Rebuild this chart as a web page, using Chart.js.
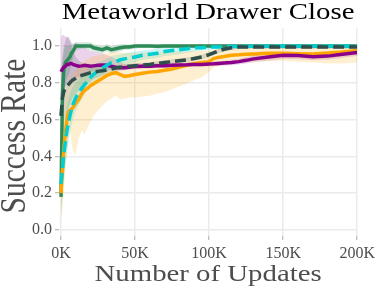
<!DOCTYPE html>
<html>
<head>
<meta charset="utf-8">
<script src="https://cdn.jsdelivr.net/npm/chart.js@4"></script>
<style>
  body { margin: 0; background: #fff; }
  canvas { display: block; }
</style>
</head>
<body>
<canvas id="chart" width="379" height="294"></canvas>
<script>
// Texts
const chartTitle = "Metaworld Drawer Close";
const xTitle = "Number of Updates";
const yTitle = "Success Rate";

// Tick values and labels
const xTicks = [0, 50000, 100000, 150000, 200000];
const xTickLabels = ["0K", "50K", "100K", "150K", "200K"];
const yTicks = [0, 0.2, 0.4, 0.6, 0.8, 1.0];
const yTickLabels = ["0.0", "0.2", "0.4", "0.6", "0.8", "1.0"];

// Updates (in thousands)
const updatesK = [0, 1, 2, 3, 4, 5, 6, 7, 8, 10, 12, 14, 16, 18, 20, 22, 25, 28, 31, 34, 37, 40, 43, 46, 50,
  55, 60, 65, 70, 75, 80, 85, 90, 95, 100, 103, 106, 110, 115, 120, 125, 130, 140, 150, 160, 170, 180, 190, 200];

// green solid
const greenMean = [0.18, 0.74, 0.88, 0.91, 0.92, 0.93, 0.94, 0.96, 0.97, 1.0, 1.0, 1.0, 1.0, 1.0, 1.0, 0.99, 0.985, 0.98, 0.99, 0.98, 0.985, 0.99, 0.995, 0.995, 1.0,
  1.0, 1.0, 0.998, 1.0, 1.0, 1.0, 1.0, 1.0, 1.0, 1.0, 1.0, 1.0, 1.0, 1.0, 1.0, 1.0, 1.0, 1.0, 1.0, 1.0, 1.0, 1.0, 1.0, 1.0];
const greenLow = [0.05, 0.55, 0.75, 0.8, 0.82, 0.84, 0.86, 0.9, 0.93, 0.98, 0.98, 0.985, 0.985, 0.98, 0.98, 0.97, 0.965, 0.96, 0.97, 0.96, 0.965, 0.97, 0.98, 0.98, 0.985,
  0.99, 0.99, 0.985, 0.99, 0.99, 0.99, 0.99, 0.99, 0.99, 0.99, 0.99, 0.99, 0.99, 0.99, 0.99, 0.99, 0.99, 0.99, 0.99, 0.99, 0.99, 0.99, 0.99, 0.99];
const greenHigh = [0.35, 0.9, 0.98, 1.0, 1.0, 1.0, 1.0, 1.01, 1.01, 1.02, 1.02, 1.02, 1.02, 1.02, 1.02, 1.01, 1.005, 1.0, 1.01, 1.0, 1.005, 1.01, 1.01, 1.01, 1.01,
  1.01, 1.01, 1.01, 1.01, 1.01, 1.01, 1.01, 1.01, 1.01, 1.01, 1.01, 1.01, 1.01, 1.01, 1.01, 1.01, 1.01, 1.01, 1.01, 1.01, 1.01, 1.01, 1.01, 1.01];

// orange solid
const orangeMean = [0.2, 0.33, 0.45, 0.53, 0.6, 0.64, 0.65, 0.655, 0.665, 0.69, 0.71, 0.74, 0.76, 0.77, 0.785, 0.795, 0.81, 0.825, 0.84, 0.85, 0.855, 0.845, 0.835, 0.838, 0.845,
  0.852, 0.858, 0.862, 0.868, 0.875, 0.885, 0.895, 0.905, 0.91, 0.915, 0.932, 0.938, 0.943, 0.95, 0.952, 0.955, 0.957, 0.96, 0.96, 0.958, 0.957, 0.962, 0.968, 0.975];
const orangeLow = [0.05, 0.12, 0.22, 0.32, 0.42, 0.5, 0.55, 0.48, 0.43, 0.41, 0.5, 0.54, 0.52, 0.56, 0.59, 0.62, 0.65, 0.675, 0.7, 0.715, 0.73, 0.71, 0.715, 0.72, 0.72,
  0.725, 0.73, 0.74, 0.75, 0.765, 0.78, 0.795, 0.815, 0.83, 0.86, 0.885, 0.89, 0.895, 0.905, 0.91, 0.912, 0.915, 0.918, 0.92, 0.915, 0.91, 0.905, 0.905, 0.91];
const orangeHigh = [0.3, 0.55, 0.68, 0.75, 0.8, 0.82, 0.83, 0.84, 0.85, 0.87, 0.89, 0.91, 0.92, 0.93, 0.94, 0.945, 0.95, 0.955, 0.96, 0.965, 0.965, 0.965, 0.96, 0.96, 0.962,
  0.965, 0.965, 0.967, 0.968, 0.97, 0.97, 0.972, 0.973, 0.974, 0.975, 0.98, 0.982, 0.985, 0.988, 0.99, 0.992, 0.995, 0.995, 0.995, 0.995, 0.995, 0.995, 0.995, 0.995];

// cyan dashed
const cyanMean = [0.25, 0.33, 0.42, 0.48, 0.54, 0.58, 0.62, 0.65, 0.68, 0.72, 0.745, 0.77, 0.79, 0.81, 0.83, 0.845, 0.865, 0.88, 0.895, 0.91, 0.915, 0.925, 0.93, 0.935, 0.94,
  0.95, 0.955, 0.96, 0.97, 0.975, 0.98, 0.985, 0.99, 0.99, 0.995, 0.995, 0.995, 0.995, 0.997, 0.997, 0.998, 0.998, 1.0, 1.0, 1.0, 1.0, 1.0, 1.0, 1.0];
const cyanLow = [0.1, 0.18, 0.28, 0.35, 0.42, 0.47, 0.52, 0.56, 0.6, 0.65, 0.68, 0.71, 0.74, 0.76, 0.78, 0.8, 0.82, 0.84, 0.86, 0.875, 0.885, 0.895, 0.9, 0.905, 0.91,
  0.925, 0.93, 0.935, 0.945, 0.95, 0.955, 0.962, 0.97, 0.975, 0.98, 0.982, 0.984, 0.986, 0.988, 0.99, 0.99, 0.99, 0.992, 0.992, 0.992, 0.992, 0.992, 0.992, 0.992];
const cyanHigh = [0.4, 0.5, 0.58, 0.63, 0.68, 0.71, 0.74, 0.76, 0.78, 0.8, 0.82, 0.84, 0.85, 0.87, 0.88, 0.9, 0.91, 0.92, 0.93, 0.945, 0.95, 0.955, 0.96, 0.965, 0.97,
  0.975, 0.98, 0.985, 0.99, 0.995, 1.0, 1.0, 1.005, 1.005, 1.005, 1.005, 1.005, 1.005, 1.005, 1.005, 1.005, 1.005, 1.005, 1.005, 1.005, 1.005, 1.005, 1.005, 1.005];

// purple solid
const purpleMean = [0.86, 0.875, 0.885, 0.89, 0.9, 0.9, 0.905, 0.905, 0.9, 0.895, 0.89, 0.892, 0.895, 0.893, 0.89, 0.892, 0.895, 0.897, 0.895, 0.89, 0.885, 0.882, 0.882, 0.885, 0.888,
  0.89, 0.89, 0.892, 0.893, 0.895, 0.897, 0.898, 0.9, 0.9, 0.902, 0.903, 0.905, 0.907, 0.91, 0.915, 0.922, 0.93, 0.94, 0.95, 0.948, 0.942, 0.945, 0.955, 0.965];
const purpleLow = [0.72, 0.74, 0.76, 0.78, 0.8, 0.81, 0.82, 0.82, 0.82, 0.82, 0.83, 0.84, 0.85, 0.855, 0.86, 0.865, 0.87, 0.875, 0.875, 0.87, 0.868, 0.865, 0.868, 0.872, 0.875,
  0.877, 0.878, 0.88, 0.881, 0.883, 0.885, 0.886, 0.888, 0.888, 0.89, 0.89, 0.892, 0.894, 0.896, 0.9, 0.905, 0.912, 0.92, 0.93, 0.928, 0.922, 0.925, 0.935, 0.945];
const purpleHigh = [1.05, 1.06, 1.06, 1.05, 1.05, 1.04, 1.03, 1.02, 1.01, 1.02, 1.01, 1.0, 0.99, 0.98, 0.975, 0.97, 0.965, 0.96, 0.95, 0.94, 0.93, 0.92, 0.9, 0.9, 0.902,
  0.903, 0.903, 0.905, 0.906, 0.908, 0.91, 0.91, 0.912, 0.912, 0.915, 0.916, 0.918, 0.92, 0.925, 0.93, 0.94, 0.948, 0.96, 0.97, 0.968, 0.962, 0.965, 0.975, 0.985];

// dark slate dashed
const darkMean = [0.62, 0.72, 0.755, 0.77, 0.78, 0.79, 0.8, 0.81, 0.815, 0.825, 0.835, 0.84, 0.845, 0.85, 0.855, 0.858, 0.862, 0.866, 0.87, 0.875, 0.88, 0.884, 0.887, 0.89, 0.893,
  0.896, 0.9, 0.905, 0.91, 0.915, 0.92, 0.925, 0.932, 0.94, 0.953, 0.962, 0.972, 0.982, 0.99, 0.994, 0.995, 0.995, 0.995, 0.995, 0.995, 0.995, 0.995, 0.995, 0.995];
const darkLow = [0.45, 0.55, 0.6, 0.62, 0.64, 0.66, 0.68, 0.7, 0.72, 0.74, 0.76, 0.78, 0.79, 0.8, 0.81, 0.82, 0.83, 0.84, 0.85, 0.858, 0.865, 0.87, 0.873, 0.876, 0.88,
  0.883, 0.887, 0.892, 0.897, 0.902, 0.907, 0.912, 0.92, 0.928, 0.94, 0.95, 0.96, 0.97, 0.978, 0.983, 0.985, 0.985, 0.985, 0.985, 0.985, 0.985, 0.985, 0.985, 0.985];
const darkHigh = [0.85, 0.95, 1.0, 1.03, 1.05, 1.05, 1.04, 1.0, 0.97, 0.94, 0.92, 0.91, 0.9, 0.9, 0.9, 0.9, 0.9, 0.9, 0.9, 0.895, 0.895, 0.898, 0.901, 0.904, 0.906,
  0.909, 0.913, 0.918, 0.923, 0.928, 0.933, 0.938, 0.944, 0.952, 0.966, 0.974, 0.984, 0.994, 1.002, 1.005, 1.005, 1.005, 1.005, 1.005, 1.005, 1.005, 1.005, 1.005, 1.005];

// Colors
const COLORS = {
  green: "#2E8B57",
  orange: "#FFA500",
  cyan: "#00CED1",
  purple: "#8B008B",
  dark: "#2F4F4F",
};
const BANDS = {
  green: "rgba(46,139,87,0.2)",
  orange: "rgba(255,165,0,0.18)",
  cyan: "rgba(0,206,209,0.2)",
  purple: "rgba(139,0,139,0.17)",
  dark: "rgba(47,79,79,0.2)",
};

function pts(arr) {
  return updatesK.map((k, i) => ({ x: k * 1000, y: arr[i] }));
}

function band(low, high, color) {
  return [
    { data: pts(low), borderWidth: 0, pointRadius: 0, fill: false, order: 10 },
    { data: pts(high), borderWidth: 0, pointRadius: 0, fill: "-1", backgroundColor: color, order: 10 },
  ];
}

function line(arr, color, order, dash) {
  return {
    data: pts(arr),
    borderColor: color,
    borderWidth: 3.5,
    borderDash: dash || [],
    pointRadius: 0,
    fill: false,
    order: order,
  };
}

const datasets = [
  ...band(orangeLow, orangeHigh, BANDS.orange),
  ...band(greenLow, greenHigh, BANDS.green),
  ...band(cyanLow, cyanHigh, BANDS.cyan),
  ...band(purpleLow, purpleHigh, BANDS.purple),
  ...band(darkLow, darkHigh, BANDS.dark),
  line(greenMean, COLORS.green, 5),
  line(orangeMean, COLORS.orange, 4),
  line(purpleMean, COLORS.purple, 3),
  line(cyanMean, COLORS.cyan, 2, [11, 5]),
  line(darkMean, COLORS.dark, 1, [11, 5]),
];

// titles drawn a bit wider than the font, like the picture
function drawText(ctx, text, x, y, size, sx, color, rot) {
  ctx.save();
  ctx.translate(x, y);
  ctx.scale(sx, 1);
  ctx.rotate(rot);
  ctx.font = size + 'px "Liberation Serif"';
  ctx.fillStyle = color;
  ctx.textAlign = "center";
  ctx.textBaseline = "alphabetic";
  ctx.fillText(text, 0, 0);
  ctx.restore();
}

const titlesPlugin = {
  id: "titles",
  afterDraw(chart) {
    const { ctx, chartArea } = chart;
    const cx = (chartArea.left + chartArea.right) / 2;
    drawText(ctx, chartTitle, cx, 19, 24, 1.2, "#000", 0);
    drawText(ctx, xTitle, cx, 281, 24, 1.2, "#4d4d4d", 0);
    drawText(ctx, yTitle, 25, 136, 29.5, 1.2, "#4d4d4d", -Math.PI / 2);
  },
};

const tickFont = { family: "Liberation Serif", size: 16 };

new Chart(document.getElementById("chart"), {
  type: "line",
  data: { datasets },
  options: {
    responsive: false,
    animation: false,
    devicePixelRatio: 1,
    layout: { padding: { top: 28, right: 20, left: 0, bottom: 0 } },
    plugins: { legend: { display: false }, tooltip: { enabled: false }, title: { display: false } },
    scales: {
      x: {
        type: "linear",
        min: -1342,
        max: 200000,
        afterFit(scale) { scale.height = 58; },
        afterBuildTicks(scale) { scale.ticks = xTicks.map((v) => ({ value: v })); },
        ticks: {
          font: tickFont,
          color: "#4d4d4d",
          padding: 4,
          maxRotation: 0,
          callback: (v) => xTickLabels[xTicks.indexOf(v)],
        },
        grid: { color: "#ebebeb", lineWidth: 1.5, tickColor: "#aaa", tickLength: 4, tickWidth: 1 },
        border: { display: false },
      },
      y: {
        min: -0.0326,
        max: 1.0978,
        afterFit(scale) { scale.width = 59; },
        afterBuildTicks(scale) { scale.ticks = yTicks.map((v) => ({ value: v })); },
        ticks: {
          font: tickFont,
          color: "#4d4d4d",
          padding: 3,
          callback: (v) => yTickLabels[yTicks.indexOf(v)],
        },
        grid: { color: "#ebebeb", lineWidth: 1.5, tickColor: "#aaa", tickLength: 4, tickWidth: 1 },
        border: { display: false },
      },
    },
  },
  plugins: [titlesPlugin],
});
</script>
</body>
</html>
